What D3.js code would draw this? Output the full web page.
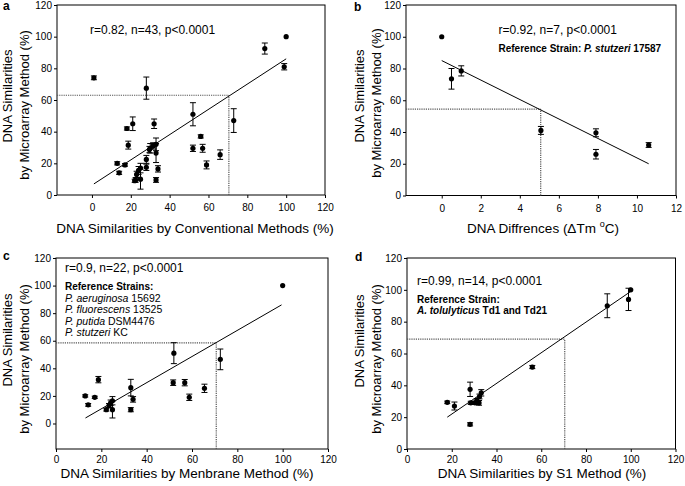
<!DOCTYPE html>
<html>
<head>
<meta charset="utf-8">
<script src="https://cdn.jsdelivr.net/npm/d3@7"></script>
<style>
  html, body { margin: 0; padding: 0; background: #fff; }
  svg { display: block; font-family: "Liberation Sans", Arial, sans-serif; }
</style>
</head>
<body>
<svg id="chart" width="685" height="486"></svg>
<script>
// ---------- DATA ----------
// Panel a: conventional methods vs microarray
const aX   = [1, 28, 100, 89, 99, 73, 52, 32, 21, 18, 18.7, 52, 56, 57, 59, 66, 13, 17, 14, 22, 23, 24, 25, 25, 28, 28, 30, 31.5, 33, 33, 34, 33, 22.5, 29.6];
const aY   = [74, 67.5, 100, 92.5, 81, 47, 51, 45, 45, 42, 31.5, 29.5, 37, 29.5, 19, 25.5, 20, 19, 14, 9, 13, 15.5, 17, 10, 17.5, 22.5, 29.5, 31, 32, 26.5, 16.5, 9.5, 9.5, 28.7];
const aErr = [1.2, 7, 0, 3.5, 2, 7.5, 7.3, 3, 4.3, 1, 2.5, 2, 1, 2.5, 2.5, 3, 1, 0.8, 1, 1, 2, 2.5, 3, 6.3, 2, 2.5, 3, 2, 4, 6, 2, 1.5, 1.5, 2];
const aFit = [[1, 7], [100, 86]];
const aRef = [70.5, 63];

// Panel b: delta Tm vs microarray
const bX   = [0, 0.5, 1, 5.08, 7.9, 7.9, 10.6];
const bY   = [100, 73.5, 78.5, 41, 39.5, 26, 31.8];
const bErr = [0, 6.5, 3.2, 2.5, 2.5, 3, 1.5];
const bFit = [[0, 85], [10.6, 20]];
const bRef = [5.07, 54.4];

// Panel c: membrane method vs microarray
const cX   = [100, 52, 72.5, 51.7, 56.8, 58.8, 65.5, 18.7, 12.9, 14.2, 17.1, 33, 34, 33, 24.9, 24.1, 23.4, 22.2, 24.9];
const cY   = [100, 51, 46.5, 29.6, 29.6, 19, 25.5, 31.8, 20, 13.5, 19, 26, 17.5, 10, 16.5, 15, 13, 10, 10];
const cErr = [0, 7.6, 7.5, 2, 2.3, 2.3, 3, 2.3, 0.8, 1, 0.8, 6, 2, 1.5, 3, 2, 1.5, 1, 6];
const cFit = [[13, 4], [99.5, 86]];
const cRef = [70.7, 58.5];

// Panel d: S1 method vs microarray
const dX   = [100, 99, 89.5, 56, 28.2, 21.2, 18, 28.2, 28.5, 30.4, 32.2, 31.2, 32.4, 33.2];
const dY   = [100, 94, 90, 51.5, 37.5, 27, 29.3, 15.5, 29, 29, 29, 30.7, 33, 35.3];
const dErr = [0, 7, 7.5, 1, 4.5, 2.5, 0.8, 1, 1, 1, 1.5, 1, 1.5, 2];
const dFit = [[18, 20], [100, 99]];
const dRef = [70.5, 69];

// Ticks
const simTicks = [0, 20, 40, 60, 80, 100, 120];
const tmTicks  = [0, 2, 4, 6, 8, 10, 12];
const yTicks   = [0, 20, 40, 60, 80, 100, 120];

// Texts
const aStat = "r=0.82, n=43, p<0.0001";
const bStat = "r=0.92, n=7, p<0.0001";
const cStat = "r=0.9, n=22, p<0.0001";
const dStat = "r=0.99, n=14, p<0.0001";
const cStrains = [["P. aeruginosa", " 15692"], ["P. fluorescens", " 13525"], ["P. putida", " DSM4476"], ["P. stutzeri", " KC"]];

// ---------- DRAW ----------
const svg = d3.select("#chart");

function panel(cfg) {
  const g = svg.append("g");
  const x = d3.scaleLinear().domain(cfg.xDom).range([cfg.l, cfg.r]);
  const y = d3.scaleLinear().domain(cfg.yDom).range([cfg.b, cfg.t]);

  // axes
  const xa = g.append("g").attr("transform", `translate(0,${cfg.b})`)
    .call(d3.axisBottom(x).tickValues(cfg.xTicks).tickSize(3).tickPadding(cfg.xPad || 6).tickFormat(d3.format("d")));
  const ya = g.append("g").attr("transform", `translate(${cfg.l},0)`)
    .call(d3.axisLeft(y).tickValues(yTicks).tickSize(3).tickPadding(2).tickFormat(d3.format("d")));
  [xa, ya].forEach(a => {
    a.select(".domain").remove();
    a.selectAll("text").attr("font-size", 10).attr("fill", "#000").attr("font-family", "Liberation Sans, Arial, sans-serif");
    a.selectAll("line").attr("stroke", "#000");
  });

  // frame
  g.append("rect").attr("x", cfg.l).attr("y", cfg.t).attr("width", cfg.r - cfg.l).attr("height", cfg.b - cfg.t)
    .attr("fill", "none").attr("stroke", "#000").attr("stroke-width", 1);

  // dotted reference lines
  g.append("line").attr("x1", x(cfg.xDom[0])).attr("x2", x(cfg.ref[0]))
    .attr("y1", y(cfg.ref[1])).attr("y2", y(cfg.ref[1]))
    .attr("stroke", "#555").attr("stroke-width", 1.2).attr("stroke-dasharray", "1.2,1");
  g.append("line").attr("x1", x(cfg.ref[0])).attr("x2", x(cfg.ref[0]))
    .attr("y1", y(cfg.yDom[0])).attr("y2", y(cfg.ref[1]))
    .attr("stroke", "#555").attr("stroke-width", 1.2).attr("stroke-dasharray", "1.2,1");

  // regression line
  g.append("line").attr("x1", x(cfg.fit[0][0])).attr("y1", y(cfg.fit[0][1]))
    .attr("x2", x(cfg.fit[1][0])).attr("y2", y(cfg.fit[1][1]))
    .attr("stroke", "#000").attr("stroke-width", 1);

  const pts = cfg.xs.map((v, i) => ({ x: v, y: cfg.ys[i], e: cfg.errs[i] }));
  // error bars
  const eb = g.append("g").attr("stroke", "#000").attr("stroke-width", 1);
  pts.filter(p => p.e > 0).forEach(p => {
    const cx = x(p.x), y0 = y(p.y - p.e), y1 = y(p.y + p.e);
    eb.append("line").attr("x1", cx).attr("x2", cx).attr("y1", y0).attr("y2", y1);
    eb.append("line").attr("x1", cx - 3).attr("x2", cx + 3).attr("y1", y0).attr("y2", y0);
    eb.append("line").attr("x1", cx - 3).attr("x2", cx + 3).attr("y1", y1).attr("y2", y1);
  });
  // points
  g.append("g").selectAll("circle").data(pts).join("circle")
    .attr("cx", d => x(d.x)).attr("cy", d => y(d.y)).attr("r", 2.6).attr("fill", "#000");

  // axis titles
  g.append("text").attr("x", cfg.xtX).attr("y", cfg.xtY).attr("text-anchor", "middle")
    .attr("font-size", 13.5).attr("fill", "#000").html(cfg.xTitle);
  cfg.yLines.forEach(([txt, bx, cy]) => {
    g.append("text").attr("transform", `translate(${bx},${cy}) rotate(-90)`).attr("text-anchor", "middle")
      .attr("font-size", 13).attr("fill", "#000").text(txt);
  });
  // panel letter
  g.append("text").attr("x", cfg.letter[1]).attr("y", cfg.letter[2]).attr("font-size", 12)
    .attr("font-weight", "bold").attr("fill", "#000").text(cfg.letter[0]);
  return { g, x, y };
}

const A = panel({ l: 57, r: 325, t: 5, b: 195, xDom: [-18, 120], yDom: [0, 120], xTicks: simTicks,
  xs: aX, ys: aY, errs: aErr, fit: aFit, ref: aRef,
  xTitle: "DNA Similarities by Conventional Methods (%)", xtX: 195, xtY: 232.5,
  yLines: [["DNA Similarities", 12, 96], ["by Microarray Method (%)", 28.7, 105]], letter: ["a", 3, 10] });
A.g.append("text").attr("x", 90).attr("y", 33.5).attr("font-size", 12).text(aStat);

const B = panel({ l: 406, r: 676, t: 5, b: 195.5, xDom: [-1.83, 12], yDom: [0, 120], xTicks: tmTicks,
  xs: bX, ys: bY, errs: bErr, fit: bFit, ref: bRef,
  xTitle: 'DNA Diffrences (\u0394Tm <tspan font-size="9" dy="-6">o</tspan><tspan dy="6">C)</tspan>', xtX: 543, xtY: 232.5,
  yLines: [["DNA Similarities", 364, 96], ["by Microarray Method (%)", 381, 103]], letter: ["b", 354, 11] });
B.g.append("text").attr("x", 498.5).attr("y", 33.5).attr("font-size", 12).text(bStat);
B.g.append("text").attr("x", 498.5).attr("y", 52).attr("font-size", 10).attr("font-weight", "bold")
  .html('Reference Strain: <tspan font-style="italic">P. stutzeri</tspan> 17587');

const C = panel({ l: 56, r: 328, t: 258, b: 449, xDom: [0, 120], yDom: [-18.5, 120], xTicks: simTicks,
  xs: cX, ys: cY, errs: cErr, fit: cFit, ref: cRef, xPad: 3.5,
  xTitle: "DNA Similarities by Menbrane Method (%)", xtX: 187, xtY: 478,
  yLines: [["DNA Similarities", 11.5, 340], ["by Microarray Method (%)", 28.7, 359]], letter: ["c", 3, 260] });
C.g.append("text").attr("x", 65).attr("y", 272).attr("font-size", 12).text(cStat);
C.g.append("text").attr("x", 65).attr("y", 290).attr("font-size", 10).attr("font-weight", "bold").text("Reference Strains:");
cStrains.forEach((s, i) => {
  const t = C.g.append("text").attr("x", 65).attr("y", 301.5 + i * 11.5).attr("font-size", 10.5);
  t.append("tspan").attr("font-style", "italic").text(s[0]);
  t.append("tspan").text(s[1]);
});

const D = panel({ l: 407, r: 675.5, t: 258, b: 449, xDom: [0, 120], yDom: [0, 120], xTicks: simTicks,
  xs: dX, ys: dY, errs: dErr, fit: dFit, ref: dRef, xPad: 3.5,
  xTitle: "DNA Similarities by S1 Method (%)", xtX: 542, xtY: 478,
  yLines: [["DNA Similarities", 364, 341], ["by Microarray Method (%)", 381, 359]], letter: ["d", 355, 261] });
D.g.append("text").attr("x", 417).attr("y", 284.5).attr("font-size", 12).text(dStat);
D.g.append("text").attr("x", 417).attr("y", 302.5).attr("font-size", 10).attr("font-weight", "bold").text("Reference Strain:");
D.g.append("text").attr("x", 417).attr("y", 313.5).attr("font-size", 10).attr("font-weight", "bold")
  .html('<tspan font-style="italic">A. tolulyticus</tspan> Td1 and Td21');
</script>
</body>
</html>
